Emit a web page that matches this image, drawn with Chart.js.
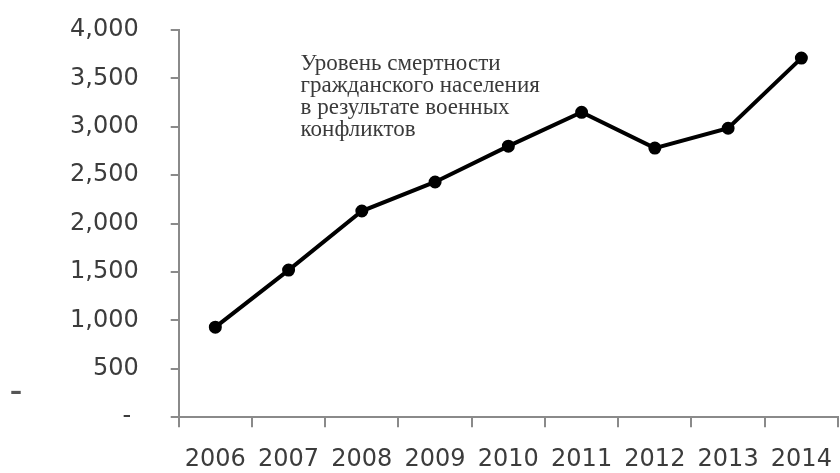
<!DOCTYPE html>
<html>
<head>
<meta charset="utf-8">
<script src="https://cdn.jsdelivr.net/npm/chart.js@4/dist/chart.umd.min.js"></script>
<style>
  html, body { margin: 0; padding: 0; background: #ffffff; }
  #wrap { width: 840px; height: 473px; position: relative; }
</style>
</head>
<body>
<div id="wrap"><canvas id="c" width="840" height="473"></canvas></div>
<script>
const years = ['2006', '2007', '2008', '2009', '2010', '2011', '2012', '2013', '2014'];
const civilianDeaths = [930, 1520, 2130, 2430, 2800, 3150, 2780, 2985, 3710];
const annotationLines = [
  'Уровень смертности',
  'гражданского населения',
  'в результате военных',
  'конфликтов'
];
const yTickMin = 0;
const yTickMax = 4000;
const yTickStep = 500;

const axisGrey = '#8a8a8a';
const textGrey = '#3c3c3c';

const annotationPlugin = {
  id: 'annotationText',
  afterDraw(chart) {
    const ctx = chart.ctx;
    const xs = chart.scales.x;
    const ys = chart.scales.y;
    ctx.save();
    ctx.fillStyle = '#3a3a3a';
    ctx.font = '23px "Liberation Serif", "DejaVu Serif", serif';
    ctx.textAlign = 'left';
    ctx.textBaseline = 'alphabetic';
    const x0 = xs.getPixelForValue(1) + 12;
    const y0 = ys.getPixelForValue(3590);
    annotationLines.forEach((t, i) => {
      ctx.fillText(t, x0, y0 + i * 22);
    });
    // stray dash at the far left of the original picture
    ctx.fillStyle = '#555555';
    ctx.font = 'bold 24px "DejaVu Sans", sans-serif';
    ctx.textBaseline = 'middle';
    ctx.fillText('–', 10, ys.getPixelForValue(250));
    ctx.restore();
  }
};

new Chart(document.getElementById('c'), {
  type: 'line',
  data: {
    labels: years,
    datasets: [{
      data: civilianDeaths,
      borderColor: '#000000',
      backgroundColor: '#000000',
      borderWidth: 4,
      pointRadius: 4.5,
      pointHoverRadius: 4.5,
      pointBackgroundColor: '#000000',
      pointBorderColor: '#000000',
      tension: 0,
      fill: false,
      clip: false
    }]
  },
  options: {
    responsive: false,
    animation: false,
    events: [],
    layout: { autoPadding: false, padding: { top: 30, right: 2, bottom: -19, left: 38 } },
    plugins: {
      legend: { display: false },
      tooltip: { enabled: false },
      title: { display: false }
    },
    scales: {
      x: {
        type: 'category',
        offset: true,
        afterFit: (s) => { s.paddingLeft = 0; s.paddingRight = 0; },
        border: { display: true, color: axisGrey, width: 2 },
        grid: {
          offset: true,
          drawOnChartArea: false,
          drawTicks: true,
          tickLength: 10,
          color: axisGrey,
          lineWidth: 2
        },
        ticks: {
          color: textGrey,
          font: { family: '"DejaVu Sans", sans-serif', size: 24 },
          padding: 18,
          maxRotation: 0,
          autoSkip: false
        }
      },
      y: {
        min: yTickMin,
        max: yTickMax,
        afterFit: (s) => { s.paddingTop = 0; s.paddingBottom = 0; },
        border: { display: true, color: axisGrey, width: 2 },
        grid: {
          drawOnChartArea: false,
          drawTicks: true,
          tickLength: 8,
          color: axisGrey,
          lineWidth: 2
        },
        ticks: {
          stepSize: yTickStep,
          color: textGrey,
          font: { family: '"DejaVu Sans", sans-serif', size: 24 },
          padding: 32,
          callback: (v) => v === 0 ? '- ' : v.toLocaleString('en-US')
        }
      }
    }
  },
  plugins: [annotationPlugin]
});
</script>
</body>
</html>
